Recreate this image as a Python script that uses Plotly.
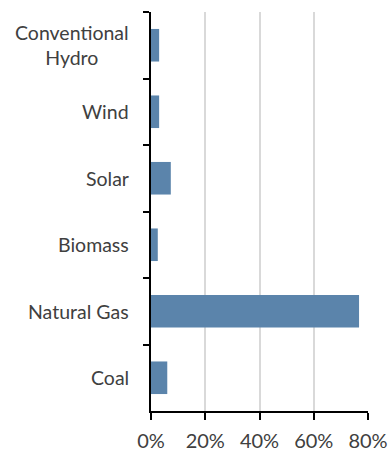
import plotly.graph_objects as go

# Share of capacity by source (top to bottom as displayed)
categories = ["Conventional Hydro", "Wind", "Solar", "Biomass", "Natural Gas", "Coal"]
category_labels = ["Conventional<br>Hydro", "Wind", "Solar", "Biomass", "Natural Gas", "Coal"]
shares = [3.0, 3.0, 7.3, 2.5, 76.7, 6.0]
x_ticks = [0, 20, 40, 60, 80]
x_tick_labels = ["0%", "20%", "40%", "60%", "80%"]

bar_color = "#5B84AB"
text_color = "#404040"
font_family = "Lato, Calibri, Carlito, sans-serif"

fig = go.Figure(
    go.Bar(
        x=shares,
        y=categories,
        orientation="h",
        marker=dict(color=bar_color, line=dict(width=0)),
        width=0.49,
        hoverinfo="skip",
    )
)

# Category labels drawn as centred annotations so two-line labels stay centred
for cat, label in zip(categories, category_labels):
    fig.add_annotation(
        x=0, xref="paper", xanchor="right", xshift=-20,
        y=cat, yref="y", yanchor="middle",
        text=label, align="center", showarrow=False,
        font=dict(family=font_family, size=19.5, color=text_color),
    )

fig.update_layout(
    width=392,
    height=453,
    margin=dict(l=151, r=24, t=12, b=42, autoexpand=False),
    paper_bgcolor="white",
    plot_bgcolor="white",
    showlegend=False,
    font=dict(family=font_family, size=19.5, color=text_color),
)

fig.update_xaxes(
    range=[0, 80],
    tickmode="array",
    tickvals=x_ticks,
    ticktext=x_tick_labels,
    automargin=False,
    showgrid=True,
    gridcolor="#D9D9D9",
    gridwidth=2,
    zeroline=False,
    showline=True,
    linecolor="black",
    linewidth=2,
    ticks="outside",
    ticklen=7,
    tickwidth=2,
    tickcolor="black",
    tickfont=dict(size=20),
    ticklabelstandoff=4,
)

fig.update_yaxes(
    autorange="reversed",
    automargin=False,
    tickson="boundaries",
    ticks="outside",
    ticklen=6,
    tickwidth=2,
    tickcolor="black",
    showline=True,
    linecolor="black",
    linewidth=2,
    showgrid=False,
    showticklabels=False,
)

fig.write_html("out.html")
